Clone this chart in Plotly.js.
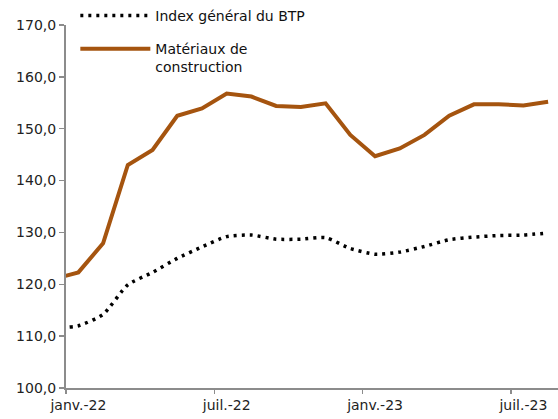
<!DOCTYPE html>
<html>
<head>
<meta charset="utf-8">
<script src="https://cdn.plot.ly/plotly-3.0.1.min.js"></script>
<style>html,body{margin:0;padding:0;background:#fff;}#chart{width:558px;height:419px;}</style>
</head>
<body>
<div id="chart"></div>
<script>
// Monthly index (déc.-21 … août-23), position index -1 … 19
const months = ["déc.-21","janv.-22","févr.-22","mars-22","avr.-22","mai-22","juin-22","juil.-22","août-22","sept.-22","oct.-22","nov.-22","déc.-22","janv.-23","févr.-23","mars-23","avr.-23","mai-23","juin-23","juil.-23","août-23"];
const indexBTP = [111.6,112.0,114.2,119.9,122.3,125.0,127.2,129.2,129.5,128.7,128.7,129.0,126.9,125.8,126.2,127.3,128.6,129.1,129.4,129.5,129.9];
const materiaux = [121.0,122.3,127.9,143.0,145.9,152.5,153.9,156.8,156.2,154.4,154.2,154.9,148.8,144.7,146.2,148.8,152.5,154.7,154.7,154.5,155.2];
const tickLabels = ["janv.-22","juil.-22","janv.-23","juil.-23"];

const xPos = months.map((m, i) => i - 1);
const labelVals = tickLabels.map(m => months.indexOf(m) - 1);
const tickVals = labelVals.map(v => v - 0.5);

const font = "DejaVu Sans, sans-serif";
const traces = [
  {
    x: xPos, y: indexBTP, type: "scatter", mode: "lines",
    name: "Index général du BTP", legendgroup: "a",
    line: {color: "#000000", width: 3.5, dash: "3px,5px", shape: "spline", smoothing: 0.6}
  },
  {
    x: xPos, y: materiaux, type: "scatter", mode: "lines",
    name: "Matériaux de<br>construction", legendgroup: "b",
    line: {color: "#A5540F", width: 4}
  },
  {
    x: [], y: [], xaxis: "x2", type: "scatter", mode: "lines", showlegend: false, hoverinfo: "skip"
  }
];
const axisCommon = {
  range: [-0.5, 19.4], showgrid: false, zeroline: false,
  showline: true, linecolor: "#8c8c8c", linewidth: 2
};
const layout = {
  width: 558, height: 419,
  margin: {l: 66, r: 0, t: 25, b: 31, autoexpand: false},
  paper_bgcolor: "#ffffff", plot_bgcolor: "#ffffff",
  separators: ", ",
  font: {family: font, size: 14, color: "#222222"},
  showlegend: true,
  legend: {
    xref: "container", yref: "container", x: 0.135, y: 1.005, xanchor: "left", yanchor: "top",
    bgcolor: "rgba(0,0,0,0)", itemwidth: 70, tracegroupgap: 12, valign: "top",
    font: {family: font, size: 14, color: "#111111"}
  },
  xaxis: Object.assign({}, axisCommon, {
    ticks: "", tickvals: labelVals, ticktext: tickLabels, ticklabelstandoff: 3,
    tickfont: {family: font, size: 14, color: "#222222"}
  }),
  xaxis2: Object.assign({}, axisCommon, {
    overlaying: "x", side: "bottom", anchor: "y",
    ticks: "outside", ticklen: 4, tickcolor: "#8c8c8c", tickwidth: 1.5,
    tickvals: tickVals, showticklabels: false
  }),
  yaxis: {
    range: [100, 170], dtick: 10, tick0: 100, showgrid: false, zeroline: false,
    showline: true, linecolor: "#8c8c8c", linewidth: 2,
    ticks: "outside", ticklen: 5, tickcolor: "#8c8c8c", tickwidth: 1.5,
    tickformat: ".1f",
    tickfont: {family: font, size: 14, color: "#222222"}
  }
};
Plotly.newPlot("chart", traces, layout, {displayModeBar: false, staticPlot: true});
</script>
</body>
</html>
